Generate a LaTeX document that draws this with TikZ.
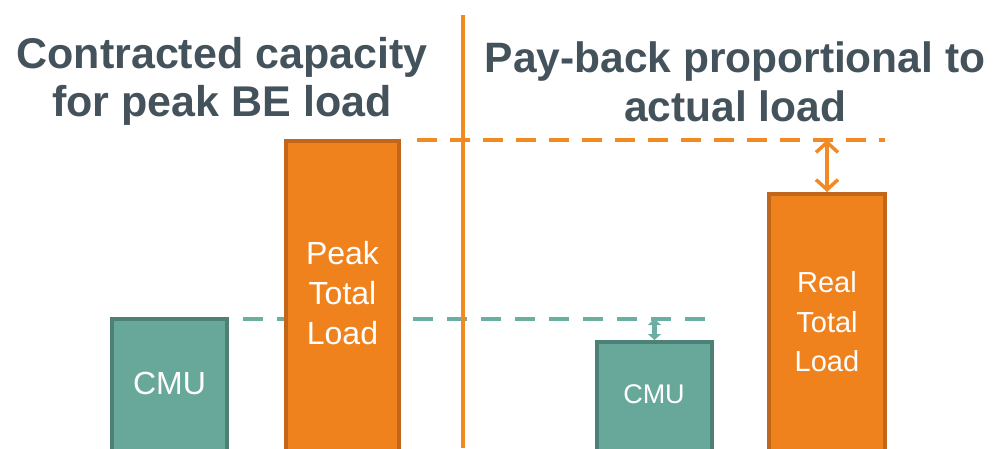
\documentclass[tikz,border=0pt]{standalone}
\usepackage{fontspec}
\setmainfont{Liberation Sans}
\usetikzlibrary{arrows.meta}
\definecolor{titlegray}{HTML}{44525C}
\definecolor{tealfill}{HTML}{67A89B}
\definecolor{tealedge}{HTML}{4E8176}
\definecolor{tealline}{HTML}{6AAFA2}
\definecolor{orangefill}{HTML}{F0821E}
\definecolor{orangeedge}{HTML}{C2661A}
\definecolor{orangeline}{HTML}{F28A24}
\begin{document}
\begin{tikzpicture}[x=1pt,y=-1pt,
  title/.style={font=\fontsize{43}{48}\selectfont\bfseries, text=titlegray,
    align=center, inner sep=0pt},
  bar/.style={rectangle, line width=4pt, inner sep=0pt, anchor=north west},
  cmubar/.style={bar, draw=tealedge, fill=tealfill},
  loadbar/.style={bar, draw=orangeedge, fill=orangefill},
  barlabel/.style={text=white, align=center, inner sep=0pt},
  capline/.style={line width=3.5pt, draw=orangeline, dash pattern=on 20pt off 13pt},
  cmuline/.style={line width=4pt, draw=tealline, dash pattern=on 20pt off 14pt},
  divider/.style={line width=3.5pt, draw=orangeline},
  gaparrow/.style={line width=3.5pt, draw=orangeline,
    {Straight Barb[length=10pt,width=22pt]}-{Straight Barb[length=10pt,width=22pt]}},
  smallgap/.style={line width=5pt, draw=tealline,
    {Triangle[length=6pt,width=13pt]}-{Triangle[length=6pt,width=13pt]}}]
\useasboundingbox (0,0) rectangle (1005,448);
\clip (0,0) rectangle (1005,448);

% headings
\node[title] (titleL) at (222,81) {Contracted capacity\\for peak BE load};
\node[title, font=\fontsize{42.5}{49}\selectfont\bfseries] (titleR) at (735,82)
  {Pay-back proportional to\\actual load};

% reference levels
\coordinate (cmuL) at (243,319);
\coordinate (cmuR) at (712,319);
\coordinate (capL) at (417,140);
\coordinate (capR) at (885,140);
\draw[cmuline] (cmuL) -- (cmuR);

% bars
\node[cmubar, minimum width=115pt, minimum height=150pt] (cmuA) at (110,317) {};
\node[loadbar, minimum width=113pt, minimum height=330pt] (peak) at (284,139) {};
\node[cmubar, minimum width=115pt, minimum height=130pt] (cmuB) at (595,340) {};
\node[loadbar, minimum width=116pt, minimum height=280pt] (real) at (767,192) {};

\draw[capline] (capL) -- (capR);

% bar labels
\node[barlabel, font=\fontsize{32}{40}\selectfont] (cmuAtext) at (169.5,383.5) {CMU};
\node[barlabel, font=\fontsize{32}{40}\selectfont] (peaktext) at (342.5,293.5) {Peak\\Total\\Load};
\node[barlabel, font=\fontsize{27}{34}\selectfont] (cmuBtext) at (654,394) {CMU};
\node[barlabel, font=\fontsize{29}{39.5}\selectfont] (realtext) at (827,322) {Real\\Total\\Load};

% divider between the two cases
\coordinate (divTop) at (463,15);
\coordinate (divBot) at (463,448);
\draw[divider] (divTop) -- (divBot);

% differences
\draw[gaparrow] (real.north |- capR) -- (real.north);
\draw[smallgap] (cmuB.north |- cmuR) -- (cmuB.north);
\end{tikzpicture}
\end{document}
